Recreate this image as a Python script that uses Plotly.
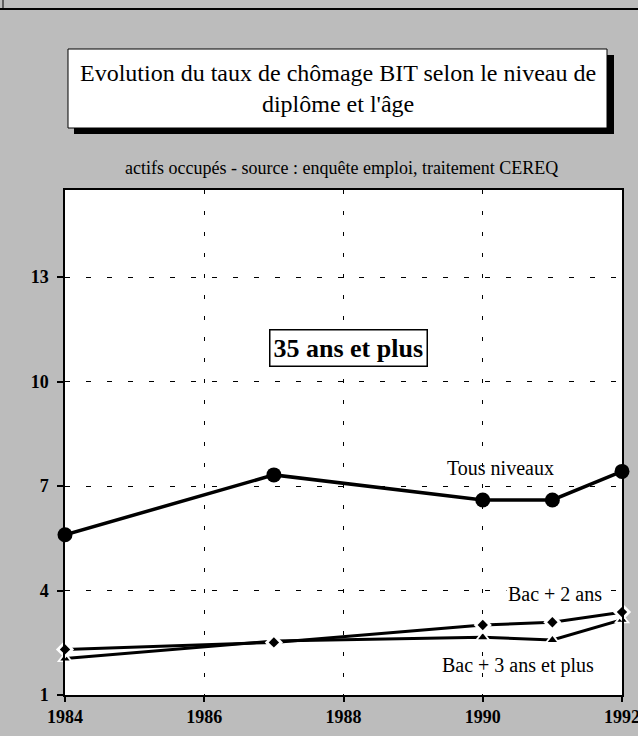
import plotly.graph_objects as go

# ---- data ----
years = [1984, 1987, 1990, 1991, 1992]
tous_niveaux = [5.6, 7.32, 6.6, 6.6, 7.42]
bac_2 = [2.31, 2.51, 3.01, 3.09, 3.38]
bac_3 = [2.05, 2.55, 2.66, 2.58, 3.16]
series_names = ["Tous niveaux", "Bac + 2 ans", "Bac + 3 ans et plus"]
y_ticks = [1, 4, 7, 10, 13]
x_ticks = [1984, 1986, 1988, 1990, 1992]
title_text = "Evolution du taux de chômage BIT selon le niveau de<br>diplôme et l'âge"
subtitle_text = "actifs occupés - source : enquête emploi, traitement CEREQ"
panel_label = "35 ans et plus"

W, H = 638, 736
L, R, T, B = 65, 16, 190, 41
PW, PH = W - L - R, H - T - B


def px(x):
    return (x - L) / PW


def py(y):
    return (H - B - y) / PH


FONT = "Liberation Serif, Times New Roman, serif"
BG = "#bcbcbc"

fig = go.Figure()

# Tous niveaux
fig.add_trace(go.Scatter(
    x=years, y=tous_niveaux, name=series_names[0], mode="lines+markers",
    line=dict(color="black", width=3.5),
    marker=dict(symbol="circle", size=15, color="black"),
    cliponaxis=False, showlegend=False))

# Bac lines, then white halos, then black markers
for vals in (bac_3, bac_2):
    fig.add_trace(go.Scatter(
        x=years, y=vals, mode="lines", line=dict(color="black", width=3),
        cliponaxis=False, showlegend=False, hoverinfo="skip"))
for vals, sym, nm in ((bac_3, "triangle-up", series_names[2]), (bac_2, "diamond", series_names[1])):
    fig.add_trace(go.Scatter(
        x=years, y=vals, mode="markers",
        marker=dict(symbol=sym, size=14, color="white", line=dict(width=0)),
        cliponaxis=False, showlegend=False, hoverinfo="skip"))
    fig.add_trace(go.Scatter(
        x=years, y=vals, name=nm, mode="markers",
        marker=dict(symbol=sym, size=8, color="black", line=dict(width=0)),
        cliponaxis=False, showlegend=False))

shapes = [
    # page rule at the top
    dict(type="line", xref="paper", yref="paper", x0=px(0), x1=px(W), y0=py(9), y1=py(9),
         line=dict(color="black", width=2)),
    dict(type="line", xref="paper", yref="paper", x0=px(3), x1=px(3), y0=py(0), y1=py(9),
         line=dict(color="black", width=1)),
    # title box shadow + box
    dict(type="rect", xref="paper", yref="paper", x0=px(74), x1=px(614), y0=py(55), y1=py(134),
         fillcolor="black", line=dict(width=0)),
    dict(type="rect", xref="paper", yref="paper", x0=px(68), x1=px(607), y0=py(49), y1=py(128),
         fillcolor="white", line=dict(color="black", width=1)),
]

annotations = [
    dict(text=title_text, xref="paper", yref="paper", x=px(338), y=py(88), showarrow=False,
         font=dict(family=FONT, size=24, color="black"), align="center",
         xanchor="center", yanchor="middle"),
    dict(text=subtitle_text, xref="paper", yref="paper", x=px(341), y=py(168), showarrow=False,
         font=dict(family=FONT, size=18, color="black"), xanchor="center", yanchor="middle"),
    dict(text="<b>" + panel_label + "</b>", xref="paper", yref="paper", x=px(348), y=py(348),
         showarrow=False, font=dict(family=FONT, size=26, color="black"),
         bgcolor="white", bordercolor="black", borderwidth=1.5, borderpad=3,
         xanchor="center", yanchor="middle"),
    dict(text=series_names[0], xref="paper", yref="paper", x=px(500), y=py(468), showarrow=False,
         font=dict(family=FONT, size=20, color="black"), xanchor="center", yanchor="middle"),
    dict(text=series_names[1], xref="paper", yref="paper", x=px(555), y=py(594), showarrow=False,
         font=dict(family=FONT, size=20, color="black"), xanchor="center", yanchor="middle",
         bgcolor="white"),
    dict(text=series_names[2], xref="paper", yref="paper", x=px(518), y=py(665), showarrow=False,
         font=dict(family=FONT, size=20, color="black"), xanchor="center", yanchor="middle"),
]

fig.update_layout(
    width=W, height=H,
    margin=dict(l=L, r=R, t=T, b=B, pad=0, autoexpand=False),
    paper_bgcolor=BG, plot_bgcolor="white",
    shapes=shapes, annotations=annotations,
    font=dict(family=FONT, color="black"),
    showlegend=False,
)
fig.update_xaxes(
    range=[1984, 1992], tickvals=x_ticks, ticktext=[str(v) for v in x_ticks],
    showgrid=True, gridcolor="black", gridwidth=1, griddash="4px,17px",
    showline=True, mirror=True, linecolor="black", linewidth=1.5,
    ticks="outside", ticklen=5, tickcolor="black", tickwidth=1.5,
    ticklabeloverflow="allow", automargin=False,
    tickfont=dict(family=FONT, size=18, color="black", weight="bold"),
    zeroline=False, fixedrange=True,
)
fig.update_yaxes(
    range=[1, 15.5], tickvals=y_ticks, ticktext=[str(v) for v in y_ticks],
    showgrid=True, gridcolor="black", gridwidth=1, griddash="5px,16px",
    showline=True, mirror=True, linecolor="black", linewidth=1.5,
    ticks="outside", ticklen=6, tickcolor="black", tickwidth=1.5,
    ticklabelstandoff=5, automargin=False,
    tickfont=dict(family=FONT, size=18, color="black", weight="bold"),
    zeroline=False, fixedrange=True,
)

fig.write_html("out.html", config={"displayModeBar": False},
               post_script="document.body.style.margin='0';document.body.style.background='" + BG + "';")
